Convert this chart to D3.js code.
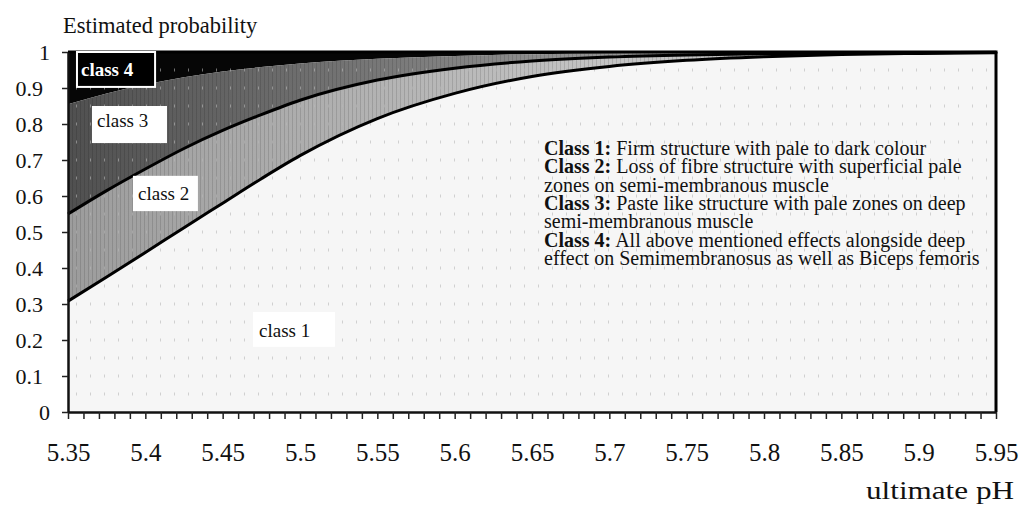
<!DOCTYPE html>
<html>
<head>
<meta charset="utf-8">
<script src="https://cdn.jsdelivr.net/npm/d3@7"></script>
<style>
  html, body { margin: 0; padding: 0; background: #fff; }
  #chart { width: 1022px; height: 506px; }
  text { font-family: "Liberation Serif", "Times New Roman", serif; }
</style>
</head>
<body>
<div id="chart"></div>
<script>
// cumulative probability curves
const phValues = [5.35, 5.375, 5.40, 5.425, 5.45, 5.475, 5.50, 5.55, 5.60, 5.65, 5.70, 5.75, 5.80, 5.85, 5.90, 5.95];
const cumClass1 = [0.308, 0.375, 0.443, 0.512, 0.580, 0.648, 0.712, 0.815, 0.885, 0.932, 0.960, 0.977, 0.987, 0.993, 0.996, 0.998];
const cumClass2 = [0.550, 0.615, 0.675, 0.732, 0.782, 0.826, 0.866, 0.922, 0.955, 0.975, 0.986, 0.992, 0.995, 0.997, 0.998, 0.999];
const cumClass3 = [0.855, 0.885, 0.910, 0.930, 0.946, 0.958, 0.968, 0.981, 0.989, 0.994, 0.996, 0.998, 0.999, 0.999, 1.000, 1.000];

const xTickLabels = [5.35, 5.4, 5.45, 5.5, 5.55, 5.6, 5.65, 5.7, 5.75, 5.8, 5.85, 5.9, 5.95];
const yTickLabels = [0, 0.1, 0.2, 0.3, 0.4, 0.5, 0.6, 0.7, 0.8, 0.9, 1];

const legendLines = [
  ["Class 1:", " Firm structure with pale to dark colour"],
  ["Class 2:", " Loss of fibre structure with superficial pale"],
  ["", "zones on semi-membranous muscle"],
  ["Class 3:", " Paste like structure with pale zones on deep"],
  ["", "semi-membranous muscle"],
  ["Class 4:", " All above mentioned effects alongside deep"],
  ["", "effect on Semimembranosus as well as Biceps femoris"]
];

// class labels: box corners and text anchor in data units
const classLabels = [
  { text: "class 4", box: [5.3558, 5.4063, 1.0, 0.903], at: [5.3584, 0.933], dark: true },
  { text: "class 3", box: [5.3655, 5.4140, 0.850, 0.747], at: [5.3688, 0.792], dark: false },
  { text: "class 2", box: [5.3920, 5.4340, 0.656, 0.558], at: [5.3953, 0.589], dark: false },
  { text: "class 1", box: [5.4696, 5.5226, 0.278, 0.181], at: [5.4735, 0.208], dark: false }
];

(function () {
  const width = 1022, height = 506;
  const margin = { top: 52, right: 26, bottom: 94, left: 68 };

  const svg = d3.select("#chart").append("svg")
    .attr("width", width)
    .attr("height", height);

  const x = d3.scaleLinear().domain([5.35, 5.95]).range([margin.left, width - margin.right]);
  const y = d3.scaleLinear().domain([0, 1]).range([height - margin.bottom, margin.top]);

  const rows = phValues.map((ph, i) => ({ ph, c1: cumClass1[i], c2: cumClass2[i], c3: cumClass3[i] }));

  const defs = svg.append("defs");

  function gradient(id, from, to) {
    const g = defs.append("linearGradient").attr("id", id)
      .attr("gradientUnits", "userSpaceOnUse")
      .attr("x1", x(5.35)).attr("x2", x(5.7)).attr("y1", 0).attr("y2", 0);
    g.append("stop").attr("offset", 0).attr("stop-color", from);
    g.append("stop").attr("offset", 1).attr("stop-color", to);
  }
  gradient("g3", "#505050", "#959595");
  gradient("g2", "#9c9c9c", "#c4c4c4");

  const stripes = defs.append("pattern").attr("id", "stripes")
    .attr("patternUnits", "userSpaceOnUse").attr("width", 4).attr("height", 10);
  stripes.append("rect").attr("x", 0).attr("y", 0).attr("width", 1).attr("height", 10)
    .attr("fill", "#000").attr("fill-opacity", 0.12);

  const plotW = x(5.95) - x(5.35);
  const plotH = y(0) - y(1);

  // background (class 1 region)
  svg.append("rect")
    .attr("x", x(5.35)).attr("y", y(1))
    .attr("width", plotW).attr("height", plotH)
    .attr("fill", "#f6f6f6");

  const curve = d3.curveMonotoneX;
  const band = (lo, hi) => d3.area().x(d => x(d.ph)).y0(lo).y1(hi).curve(curve);

  svg.append("path").datum(rows).attr("fill", "#060606")
    .attr("d", band(d => y(d.c3), () => y(1)));
  svg.append("path").datum(rows).attr("fill", "url(#g3)")
    .attr("d", band(d => y(d.c2), d => y(d.c3)));
  svg.append("path").datum(rows).attr("fill", "url(#stripes)")
    .attr("d", band(d => y(d.c2), d => y(d.c3)));
  svg.append("path").datum(rows).attr("fill", "url(#g2)")
    .attr("d", band(d => y(d.c1), d => y(d.c2)));
  svg.append("path").datum(rows).attr("fill", "url(#stripes)")
    .attr("d", band(d => y(d.c1), d => y(d.c2)));

  // faint dotted grid
  const gridVals = d3.range(1, 20).map(i => i * 0.05);
  svg.append("g").selectAll("line")
    .data(gridVals)
    .enter().append("line")
    .attr("x1", x(5.35) + 8).attr("x2", x(5.95) - 4)
    .attr("y1", d => y(d)).attr("y2", d => y(d))
    .attr("stroke", "#b8b8b8")
    .attr("stroke-opacity", 0.6)
    .attr("stroke-width", 3)
    .attr("stroke-dasharray", "1 13");

  // boundary lines
  const line = key => d3.line().x(d => x(d.ph)).y(d => y(d[key])).curve(curve);
  ["c1", "c2"].forEach(k => {
    svg.append("path").datum(rows)
      .attr("fill", "none")
      .attr("stroke", "#000")
      .attr("stroke-width", 3)
      .attr("d", line(k));
  });

  // frame: top and right
  svg.append("line")
    .attr("x1", x(5.35)).attr("x2", x(5.95) + 1.5)
    .attr("y1", y(1)).attr("y2", y(1))
    .attr("stroke", "#000").attr("stroke-width", 3);
  svg.append("line")
    .attr("x1", x(5.95)).attr("x2", x(5.95))
    .attr("y1", y(1)).attr("y2", y(0))
    .attr("stroke", "#000").attr("stroke-width", 3);

  // class labels
  classLabels.forEach(l => {
    const g = svg.append("g");
    g.append("rect")
      .attr("x", x(l.box[0])).attr("y", y(l.box[2]))
      .attr("width", x(l.box[1]) - x(l.box[0]))
      .attr("height", y(l.box[3]) - y(l.box[2]))
      .attr("fill", l.dark ? "#000" : "#fff")
      .attr("stroke", l.dark ? "#fff" : "none")
      .attr("stroke-width", 2);
    g.append("text")
      .attr("x", x(l.at[0])).attr("y", y(l.at[1]))
      .attr("fill", l.dark ? "#fff" : "#111")
      .attr("font-weight", l.dark ? 700 : 400)
      .style("font-size", "19px")
      .text(l.text);
  });

  // x axis: minor ticks every 0.01
  const xAxisG = svg.append("g")
    .attr("transform", `translate(0,${y(0)})`)
    .call(d3.axisBottom(x)
      .tickValues(d3.range(0, 61).map(i => 5.35 + i * 0.01))
      .tickSize(7)
      .tickSizeOuter(0)
      .tickFormat(""));
  xAxisG.select(".domain").attr("stroke-width", 2.5).attr("stroke", "#111");
  xAxisG.selectAll(".tick line").attr("stroke", "#222").attr("stroke-width", 1.5);

  const xLabG = svg.append("g")
    .attr("transform", `translate(0,${y(0)})`)
    .call(d3.axisBottom(x).tickValues(xTickLabels).tickSize(0).tickFormat(d3.format("")));
  xLabG.select(".domain").remove();
  xLabG.selectAll("text")
    .attr("y", 49).attr("dy", 0)
    .attr("fill", "#111")
    .style("font-size", "25px")
    .style("font-family", "'Liberation Serif', 'Times New Roman', serif");

  // y axis
  const yAxisG = svg.append("g")
    .attr("transform", `translate(${x(5.35)},0)`)
    .call(d3.axisLeft(y)
      .tickValues(yTickLabels)
      .tickSize(6)
      .tickSizeOuter(0)
      .tickFormat(d => (d === 0 || d === 1) ? String(d) : d3.format(".1f")(d)));
  yAxisG.select(".domain").attr("stroke-width", 2.5).attr("stroke", "#111");
  yAxisG.selectAll(".tick line").attr("stroke", "#222").attr("stroke-width", 1.5);
  yAxisG.selectAll("text")
    .attr("x", d => (d === 0 || d === 1) ? -18 : -25)
    .attr("dy", "0.34em")
    .attr("fill", "#111")
    .style("font-size", "22px")
    .style("font-family", "'Liberation Serif', 'Times New Roman', serif");

  // axis titles
  svg.append("text")
    .attr("x", 63).attr("y", 33)
    .attr("fill", "#111")
    .style("font-size", "22.5px")
    .text("Estimated probability");

  svg.append("text")
    .attr("x", 866).attr("y", 499)
    .attr("fill", "#111")
    .attr("textLength", 148)
    .attr("lengthAdjust", "spacingAndGlyphs")
    .style("font-size", "25px")
    .text("ultimate pH");

  // class description block
  const legend = svg.append("text")
    .attr("fill", "#111")
    .style("font-size", "20px");
  legendLines.forEach((ln, i) => {
    const t = legend.append("tspan").attr("x", 544).attr("y", 155 + i * 18.3);
    if (ln[0]) t.append("tspan").attr("font-weight", 700).text(ln[0]);
    t.append("tspan").text(ln[1]);
  });
})();
</script>
</body>
</html>
